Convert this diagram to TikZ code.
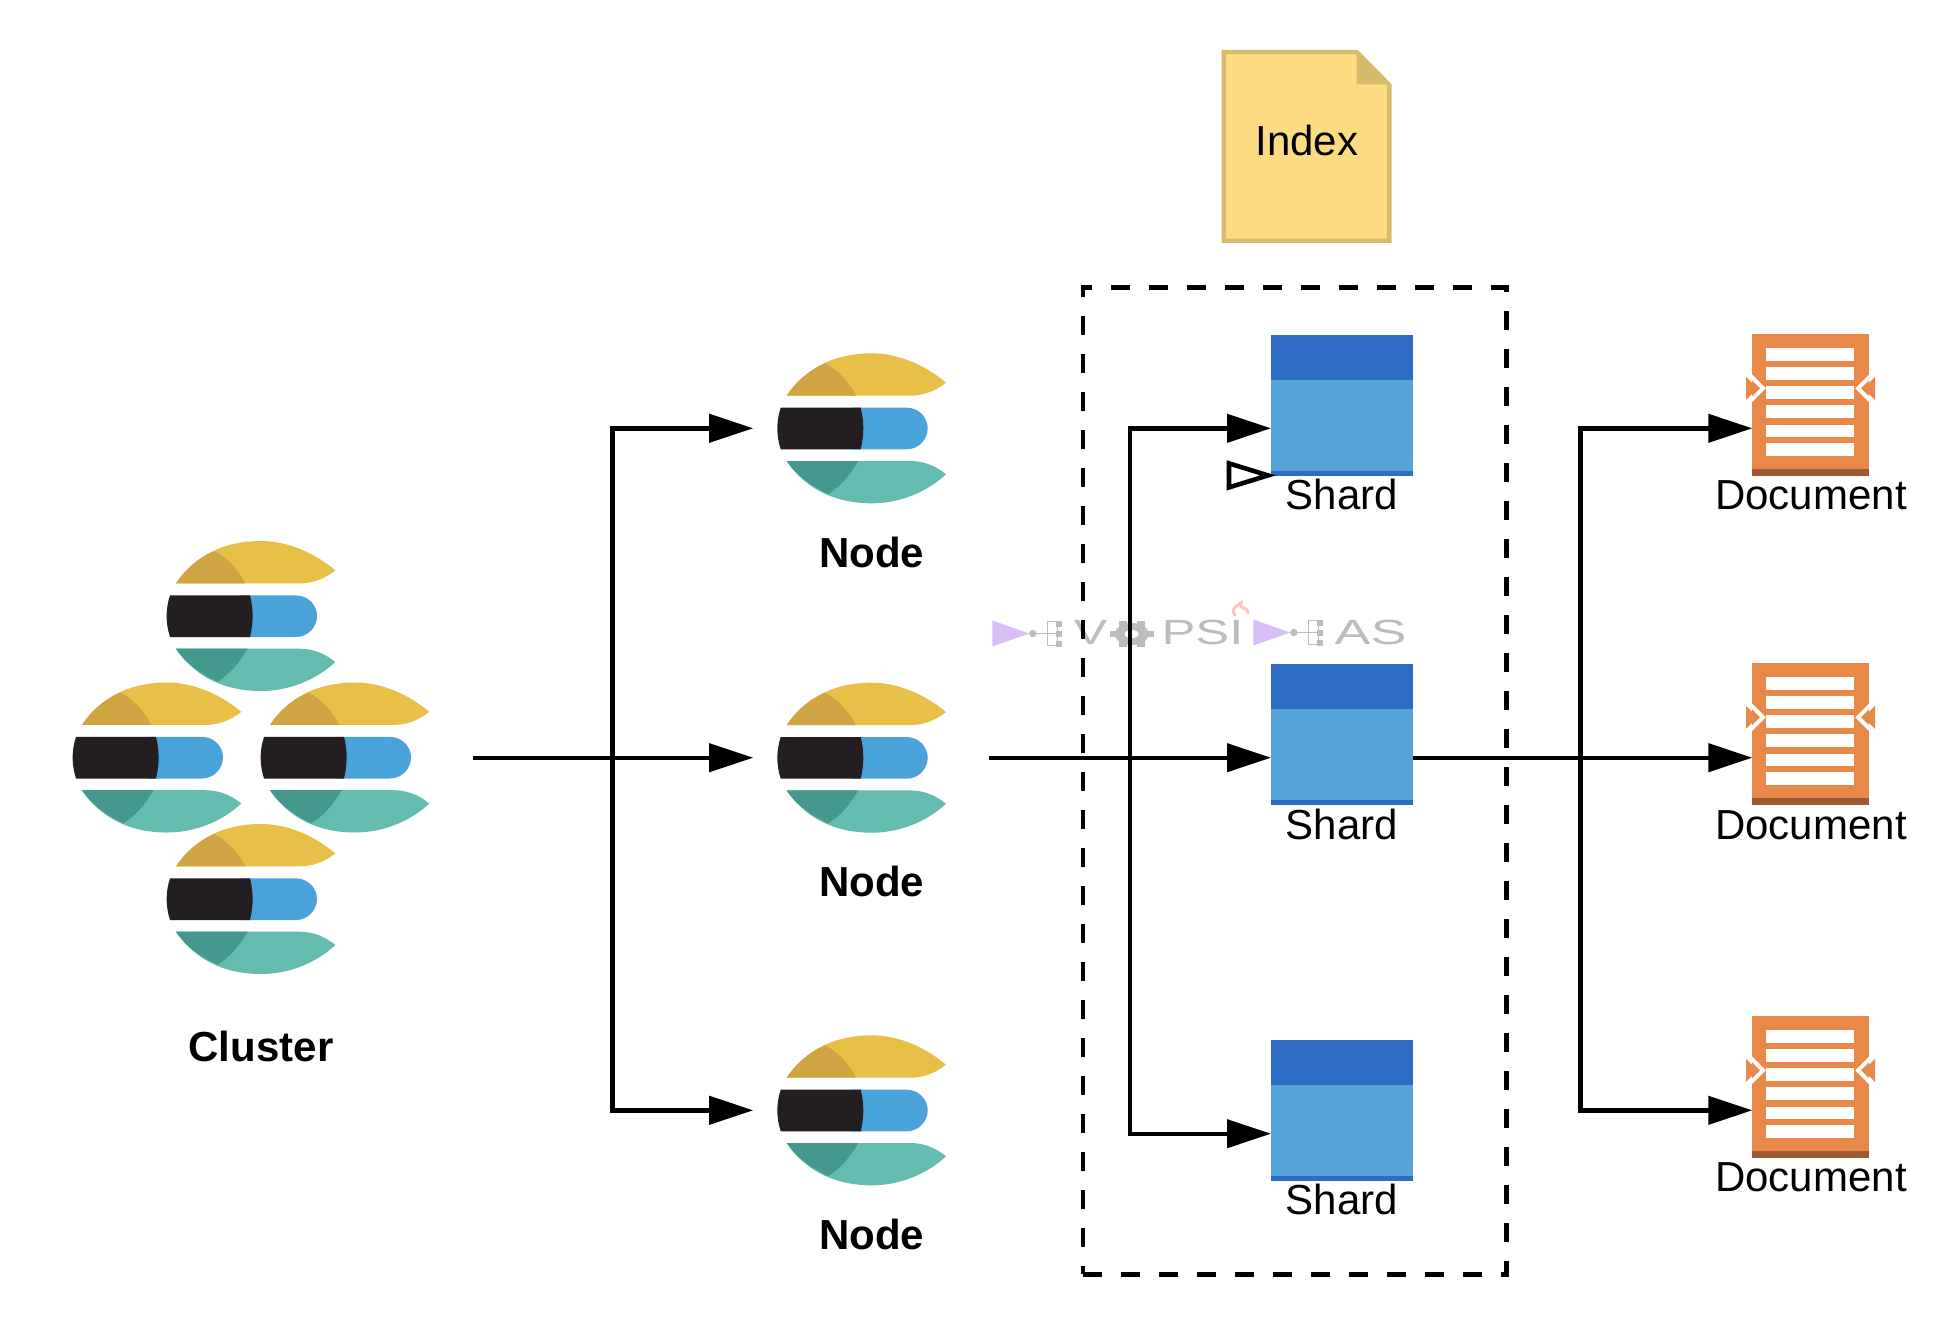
\documentclass[tikz,border=0pt]{standalone}
\usepackage{fontspec}
\setmainfont{Liberation Sans}
\usetikzlibrary{arrows.meta}
\definecolor{elYel}{HTML}{E8BF47}
\definecolor{elYelD}{HTML}{CFA544}
\definecolor{elBlk}{HTML}{231F20}
\definecolor{elBlu}{HTML}{4AA3DB}
\definecolor{elTeal}{HTML}{63BCAF}
\definecolor{elTealD}{HTML}{44988E}
\definecolor{shMain}{HTML}{57A5D8}
\definecolor{shBand}{HTML}{2E6BC5}
\definecolor{docOr}{HTML}{E8894A}
\definecolor{docDk}{HTML}{9E5A34}
\definecolor{idxFill}{HTML}{FBDC82}
\definecolor{idxLine}{HTML}{D6BC6A}
\definecolor{wmGray}{HTML}{BCBCBC}
\definecolor{wmPur}{HTML}{D8BEF6}
\definecolor{wmPink}{HTML}{F8C6C6}
\tikzset{
  x=.5pt,y=-.5pt,
  conn/.style={line width=2.2pt,draw=black,-{Triangle[length=22pt,width=14pt]}},
  label/.style={inner sep=0pt,font=\fontsize{21pt}{24pt}\selectfont},
  boldlabel/.style={inner sep=0pt,font=\fontsize{21pt}{24pt}\selectfont\bfseries},
  logonode/.style={inner sep=0pt,outer sep=0pt,minimum width=84.5pt,minimum height=75pt},
  shardbox/.style={inner sep=0pt,outer sep=0pt,minimum width=70.85pt,minimum height=70.7pt,fill=shMain},
  docbox/.style={inner sep=0pt,outer sep=0pt,minimum width=58.2pt,minimum height=70.8pt,fill=docOr},
  wmtext/.style={inner sep=0pt,text=wmGray,font=\fontsize{17.5pt}{20pt}\selectfont,transform shape},
  eslogo/.pic={
    \fill[elYel] (-85,-32.6) .. controls (-65,-62) and (-35,-75) .. (0,-75)
      .. controls (28,-75) and (55,-62) .. (74.3,-45.6)
      .. controls (62,-36) and (50,-32.6) .. (38,-32.6) -- cycle;
    \fill[elYelD] (-85,-32.6) .. controls (-75,-48) and (-62,-58) .. (-46.7,-65)
      .. controls (-33,-58) and (-22,-45) .. (-15.7,-32.6) -- cycle;
    \fill[elBlu] (-20,-20.6) -- (35,-20.6) .. controls (47,-20.6) and (56,-11) .. (56,0)
      .. controls (56,11) and (47,21) .. (35,21) -- (-20,21) -- cycle;
    \fill[elBlk] (-91,-20.6) -- (-11,-20.6) .. controls (-7.5,-7) and (-7.5,7) .. (-11,21)
      -- (-91,21) .. controls (-95.5,7) and (-95.5,-7) .. cycle;
    \fill[elTeal] (-85,32.7) -- (38,32.7) .. controls (50,32.7) and (62,36) .. (74.3,46)
      .. controls (55,64) and (28,75) .. (0,75) .. controls (-35,75) and (-65,62) .. cycle;
    \fill[elTealD] (-85,32.7) -- (-13.4,32.7) .. controls (-22,47) and (-30,57) .. (-43.4,65.7)
      .. controls (-60,58) and (-75,48) .. cycle;
  },
  shardpic/.pic={
    \fill[shBand] (-70.85,-70.7) rectangle (70.85,-25.7);
    \fill[shBand] (-70.85,65.7) rectangle (70.85,70.7);
  },
  docpic/.pic={
    \fill[docDk] (-58.2,64) rectangle (58.2,70.8);
    \foreach \a/\b in {-57.3/-44.3,-38/-25.3,-18.7/-6.3,0.3/13,19.7/32.3,38.3/51}
      \fill[white] (-44.3,\a) rectangle (43,\b);
    % side notches
    \draw[white,line width=2pt,line join=miter] (-61,-30.2) -- (-47.5,-16.7) -- (-61,-3.2);
    \fill[docOr] (-64.5,-28.2) -- (-53,-16.7) -- (-64.5,-5.2) -- cycle;
    \draw[white,line width=2pt,line join=miter] (61,-30.2) -- (47.5,-16.7) -- (61,-3.2);
    \fill[docOr] (64.5,-28.2) -- (53,-16.7) -- (64.5,-5.2) -- cycle;
  },
  wmtree/.pic={
    \fill[wmPur] (0,-13) -- (37,0) -- (0,13) -- cycle;
    \fill[wmGray] (40.5,0) circle[radius=3.7];
    \draw[wmGray,line width=.8pt] (40,0) -- (55,0);
    \draw[wmGray,line width=.8pt] (55,-12) rectangle (65,12) (55,0) -- (65,0);
    \foreach \yy in {-10,0,10} \fill[wmGray] (64,\yy-3) rectangle (70,\yy+3);
  }
}
\begin{document}
\begin{tikzpicture}
\useasboundingbox[fill=white] (0,0) rectangle (1936,1338);

% watermark
\path (992.3,633.5) pic {wmtree};
\node[wmtext,xscale=1.43] (wmV) at (1090.5,632) {V};
\fill[wmGray] (1131.7,634) ellipse[x radius=17,y radius=11];
\foreach \ax/\ay in {18/0,-18/0,9/-10,-9/-10,9/10,-9/10}
  \fill[wmGray] (1131.7+\ax-4,634+\ay-3) rectangle (1131.7+\ax+4,634+\ay+3);
\fill[white] (1131.7,634) ellipse[x radius=7,y radius=4];
\node[wmtext,xscale=1.45] (wmPSI) at (1202.5,632.5) {PSI};
\draw[wmPink,line width=1.5pt,line cap=round]
  (1235,615) .. controls (1230,608) and (1236,607) .. (1241,603)
  .. controls (1239,610) and (1246,605) .. (1248,613);
\path (1253.3,632.5) pic {wmtree};
\node[wmtext,xscale=1.54] (wmAS) at (1370.5,632.5) {AS};

% index
\filldraw[fill=idxFill,draw=idxLine,line width=2.2pt,line join=miter]
  (1223.7,52) -- (1356.7,52) -- (1389.3,85) -- (1389.3,240.7) -- (1223.7,240.7) -- cycle;
\fill[idxLine] (1356.7,50) -- (1391.3,84.3) -- (1356.7,84.3) -- cycle;
\node[label] (index) at (1306.7,140.5) {Index};

% dashed container
\node[draw=black,line width=2.4pt,dash pattern=on 9.5pt off 9.5pt,inner sep=0pt,outer sep=0pt,
      minimum width=211.75pt,minimum height=493.2pt] (group) at (1294.75,781) {};

% cluster logos
\path (261,616) pic {eslogo};
\path (167,757.5) pic {eslogo};
\path (355,757.5) pic {eslogo};
\path (261,899) pic {eslogo};
\node[boldlabel] (cluster) at (261,1046.5) {Cluster};

% node logos
\node[logonode] (n1) at (871.7,428.3) {};
\node[logonode] (n2) at (871.7,757.7) {};
\node[logonode] (n3) at (871.7,1110.3) {};
\path (871.7,428.3) pic {eslogo};
\path (871.7,757.7) pic {eslogo};
\path (871.7,1110.3) pic {eslogo};
\node[boldlabel] (n1l) at (871.7,552.8) {Node};
\node[boldlabel] (n2l) at (871.7,881.8) {Node};
\node[boldlabel] (n3l) at (871.7,1234.8) {Node};

% shards
\node[shardbox] (s1) at (1341.85,405.3) {};
\node[shardbox] (s2) at (1341.85,734.3) {};
\node[shardbox] (s3) at (1341.85,1110.3) {};
\path (1341.85,405.3) pic {shardpic};
\path (1341.85,734.3) pic {shardpic};
\path (1341.85,1110.3) pic {shardpic};
\node[label] (s1l) at (1342,494) {Shard};
\node[label] (s2l) at (1342,824) {Shard};
\node[label] (s3l) at (1342,1199) {Shard};

% documents
\node[docbox] (d1) at (1810.5,405) {};
\node[docbox] (d2) at (1810.5,734) {};
\node[docbox] (d3) at (1810.5,1087) {};
\path (1810.5,405) pic {docpic};
\path (1810.5,734) pic {docpic};
\path (1810.5,1087) pic {docpic};
\node[label] (d1l) at (1811,495) {Document};
\node[label] (d2l) at (1811,825) {Document};
\node[label] (d3l) at (1811,1177) {Document};

% connectors
\coordinate (c0) at (472.5,757.7);
\coordinate (j0) at (612.4,757.7);
\coordinate (c1) at (989.3,757.7);
\coordinate (j1) at (1130,757.7);
\coordinate (j2) at (1580.5,757.7);
\coordinate (s3in) at (1271,1133.7);
\draw[conn,shorten >=17pt] (c0) -- (c0 -| n2.west);
\draw[conn,shorten >=17pt] (j0) |- (n1.west);
\draw[conn,shorten >=17pt] (j0) |- (n3.west);
\draw[conn] (c1) -- (c1 -| s2.west);
\draw[conn] (j1) |- (n1 -| s1.west);
\draw[conn] (j1) |- (s3in -| s3.west);
\draw[conn] (c1 -| s2.east) -- (c1 -| d2.west);
\draw[conn] (j2) |- (n1 -| d1.west);
\draw[conn] (j2) |- (n3 -| d3.west);

% open arrowhead on first shard
\coordinate (s1tip) at (s1.south west);
\filldraw[fill=white,draw=black,line width=2.3pt,miter limit=10]
  ([xshift=-1.5pt,yshift=.3pt]s1tip) -- ++(-19.5pt,-6pt) -- ++(0pt,12pt) -- cycle;
\end{tikzpicture}
\end{document}
